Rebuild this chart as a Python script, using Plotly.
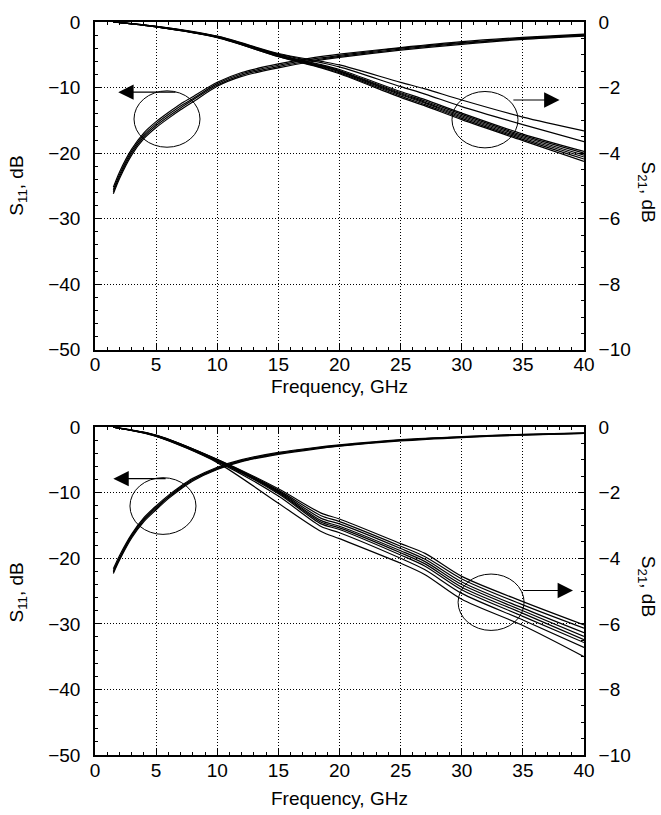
import plotly.graph_objects as go

# ---------------- data ----------------
freq_s11 = [1.5, 2, 3, 4, 5, 6, 7, 8, 10, 12, 15, 18, 20, 25, 30, 35, 40]
freq_s21 = [1.5, 5, 10, 15, 18.5, 20, 25, 27, 30, 35, 40]

# top panel, S11 (dB, left axis)
top_s11_a = [-25.2, -22.9, -19.4, -16.9, -15.2, -13.8, -12.5, -11.4, -9.2, -7.7, -6.4, -5.4, -4.9, -3.9, -3.0, -2.35, -1.85]
top_s11_b = [-25.6, -23.3, -19.7, -17.2, -15.5, -14.1, -12.8, -11.7, -9.4, -7.9, -6.6, -5.6, -5.1, -4.0, -3.15, -2.45, -1.95]
top_s11_c = [-25.9, -23.6, -20.0, -17.5, -15.8, -14.4, -13.1, -11.9, -9.6, -8.1, -6.8, -5.8, -5.25, -4.15, -3.25, -2.55, -2.05]
top_s11_d = [-26.2, -23.9, -20.3, -17.8, -16.1, -14.7, -13.4, -12.2, -9.8, -8.3, -7.0, -5.95, -5.4, -4.3, -3.4, -2.65, -2.15]

# top panel, S21 (dB, right axis)
top_s21_1 = [0, -0.13, -0.43, -0.96, -1.20, -1.31, -1.84, -2.04, -2.38, -2.90, -3.32]
top_s21_2 = [0, -0.13, -0.44, -0.98, -1.24, -1.37, -1.97, -2.20, -2.58, -3.13, -3.65]
top_s21_3 = [0, -0.14, -0.45, -1.00, -1.30, -1.45, -2.12, -2.37, -2.78, -3.42, -3.95]
top_s21_4 = [0, -0.14, -0.45, -1.01, -1.32, -1.48, -2.16, -2.41, -2.82, -3.46, -4.00]
top_s21_5 = [0, -0.14, -0.46, -1.02, -1.34, -1.50, -2.19, -2.45, -2.86, -3.50, -4.06]
top_s21_6 = [0, -0.15, -0.46, -1.03, -1.36, -1.52, -2.22, -2.48, -2.90, -3.54, -4.12]
top_s21_7 = [0, -0.15, -0.47, -1.05, -1.38, -1.55, -2.26, -2.52, -2.94, -3.58, -4.18]
top_s21_8 = [0, -0.15, -0.48, -1.06, -1.40, -1.58, -2.30, -2.56, -2.98, -3.62, -4.25]

# bottom panel, S11 (dB, left axis)
bot_s11_a = [-21.6, -19.6, -16.3, -13.8, -12.0, -10.4, -9.0, -7.8, -6.1, -4.95, -3.85, -3.1, -2.7, -1.9, -1.42, -1.08, -0.85]
bot_s11_b = [-21.9, -19.9, -16.5, -14.0, -12.2, -10.6, -9.15, -7.95, -6.25, -5.05, -3.95, -3.18, -2.77, -1.97, -1.48, -1.13, -0.90]
bot_s11_c = [-22.1, -20.1, -16.7, -14.2, -12.4, -10.7, -9.3, -8.05, -6.35, -5.15, -4.05, -3.25, -2.84, -2.03, -1.53, -1.17, -0.93]
bot_s11_d = [-22.3, -20.3, -16.9, -14.4, -12.6, -10.9, -9.45, -8.2, -6.45, -5.25, -4.15, -3.33, -2.9, -2.1, -1.58, -1.21, -0.96]

# bottom panel, S21 (dB, right axis)
bot_s21_1 = [0, -0.24, -0.98, -1.88, -2.62, -2.80, -3.55, -3.85, -4.55, -5.32, -6.03]
bot_s21_2 = [0, -0.25, -0.99, -1.92, -2.70, -2.88, -3.63, -3.95, -4.63, -5.42, -6.13]
bot_s21_3 = [0, -0.25, -1.00, -1.95, -2.78, -2.95, -3.70, -4.03, -4.72, -5.52, -6.27]
bot_s21_4 = [0, -0.26, -1.01, -1.98, -2.85, -3.02, -3.77, -4.10, -4.80, -5.60, -6.38]
bot_s21_5 = [0, -0.26, -1.02, -2.00, -2.90, -3.07, -3.83, -4.17, -4.88, -5.68, -6.48]
bot_s21_6 = [0, -0.27, -1.03, -2.03, -2.95, -3.12, -3.90, -4.24, -4.96, -5.77, -6.57]
bot_s21_7 = [0, -0.27, -1.05, -2.10, -3.03, -3.22, -4.00, -4.35, -5.07, -5.88, -6.72]
bot_s21_8 = [0, -0.28, -1.08, -2.32, -3.18, -3.40, -4.15, -4.50, -5.25, -6.05, -7.00]

x_ticks = [0, 5, 10, 15, 20, 25, 30, 35, 40]
left_ticks = [-50, -40, -30, -20, -10, 0]
right_ticks = [-10, -8, -6, -4, -2, 0]

# ---------------- figure ----------------
FONT = "Liberation Sans, Arial, Helvetica, sans-serif"
fig = go.Figure()

def add_lines(xs, series, xa, ya):
    for ys in series:
        fig.add_trace(go.Scatter(x=xs, y=ys, xaxis=xa, yaxis=ya, mode="lines",
                                 line=dict(color="black", width=1.2, shape="spline", smoothing=0.8),
                                 showlegend=False, hoverinfo="skip"))

add_lines(freq_s11, [top_s11_a, top_s11_b, top_s11_c, top_s11_d], "x2", "y3")
add_lines(freq_s21, [top_s21_1, top_s21_2, top_s21_3, top_s21_4,
                     top_s21_5, top_s21_6, top_s21_7, top_s21_8], "x2", "y4")
add_lines(freq_s11, [bot_s11_a, bot_s11_b, bot_s11_c, bot_s11_d], "x", "y")
add_lines(freq_s21, [bot_s21_1, bot_s21_2, bot_s21_3, bot_s21_4,
                     bot_s21_5, bot_s21_6, bot_s21_7, bot_s21_8], "x", "y2")

tickfont = dict(family=FONT, size=19, color="black")
GRID_DASH = "1px,2px"

def xaxis(anchor):
    return dict(range=[0, 40], tickvals=x_ticks, ticks="inside", ticklen=6, tickwidth=1,
                tickcolor="black", showline=True, linecolor="black", linewidth=1.5,
                mirror="ticks", showgrid=True, gridcolor="black", gridwidth=1, griddash=GRID_DASH,
                zeroline=False, tickfont=tickfont, anchor=anchor, domain=[0, 1],
                ticklabelstandoff=-3,
                minor=dict(dtick=1, ticks="inside", ticklen=3, tickcolor="black", showgrid=False))

def yleft(domain, anchor):
    return dict(range=[-50, 0], tickvals=left_ticks, ticks="inside", ticklen=6, tickwidth=1,
                tickcolor="black", showline=True, linecolor="black", linewidth=1.5,
                showgrid=True, gridcolor="black", gridwidth=1, griddash=GRID_DASH,
                zeroline=False, tickfont=tickfont, domain=domain, anchor=anchor,
                ticklabelstandoff=9,
                minor=dict(dtick=2, ticks="inside", ticklen=3, tickcolor="black", showgrid=False))

def yright(overlay, anchor):
    return dict(range=[-10, 0], tickvals=right_ticks, ticks="inside", ticklen=6, tickwidth=1,
                tickcolor="black", showline=True, linecolor="black", linewidth=1.5,
                showgrid=False, zeroline=False, tickfont=tickfont, side="right",
                overlaying=overlay, anchor=anchor, ticklabelstandoff=9,
                minor=dict(dtick=0.5, ticks="inside", ticklen=3, tickcolor="black", showgrid=False))

top_dom = [0.5528, 1.0]
bot_dom = [0.0, 0.4472]

fig.update_layout(
    width=661, height=815,
    margin=dict(l=95, r=77, t=17, b=60),
    paper_bgcolor="white", plot_bgcolor="white",
    font=dict(family=FONT, color="black"),
    xaxis=xaxis("y"),
    xaxis2=xaxis("y3"),
    yaxis=yleft(bot_dom, "x"),
    yaxis2=yright("y", "x"),
    yaxis3=yleft(top_dom, "x2"),
    yaxis4=yright("y3", "x2"),
    showlegend=False,
)

# axis titles
title_font = dict(family=FONT, size=19, color="black")
ann = []
for ycen in [0.777, 0.222]:
    ann.append(dict(text="S<sub>11</sub>, dB", xref="paper", yref="paper", x=-0.157, y=ycen,
                    textangle=-90, showarrow=False, font=title_font, xanchor="center", yanchor="middle"))
for ycen in [0.768, 0.230]:
    ann.append(dict(text="S<sub>21</sub>, dB", xref="paper", yref="paper", x=1.128, y=ycen,
                    textangle=90, showarrow=False, font=title_font, xanchor="center", yanchor="middle"))
ann.append(dict(text="Frequency, GHz", xref="paper", yref="paper", x=0.5, y=0.5025,
                showarrow=False, font=title_font, xanchor="center", yanchor="middle"))
ann.append(dict(text="Frequency, GHz", xref="paper", yref="paper", x=0.5, y=-0.0595,
                showarrow=False, font=title_font, xanchor="center", yanchor="middle"))

# arrows (tail -> tip)
def arrow(xr, yr, x_tail, x_tip, yv):
    return dict(x=x_tip, y=yv, ax=x_tail, ay=yv, xref=xr, yref=yr, axref=xr, ayref=yr,
                text="", showarrow=True, arrowhead=2, arrowsize=2.8, arrowwidth=1.1,
                arrowcolor="black")

ann.append(arrow("x2", "y3", 6.7, 1.9, -10.7))
ann.append(arrow("x2", "y3", 34.1, 38.0, -11.9))
ann.append(arrow("x", "y", 5.9, 1.5, -7.85))
ann.append(arrow("x", "y", 34.9, 39.1, -24.9))
fig.update_layout(annotations=ann)

# circles
circ_style = dict(type="circle", line=dict(color="black", width=1))
fig.add_shape(xref="x2", yref="y3", x0=3.19, x1=8.59, y0=-19.1, y1=-10.5, **circ_style)
fig.add_shape(xref="x2", yref="y3", x0=29.2, x1=34.6, y0=-19.2, y1=-10.6, **circ_style)
fig.add_shape(xref="x", yref="y", x0=2.86, x1=8.26, y0=-16.35, y1=-7.7, **circ_style)
fig.add_shape(xref="x", yref="y", x0=29.7, x1=35.1, y0=-31.0, y1=-22.4, **circ_style)

fig.write_html("out.html")
